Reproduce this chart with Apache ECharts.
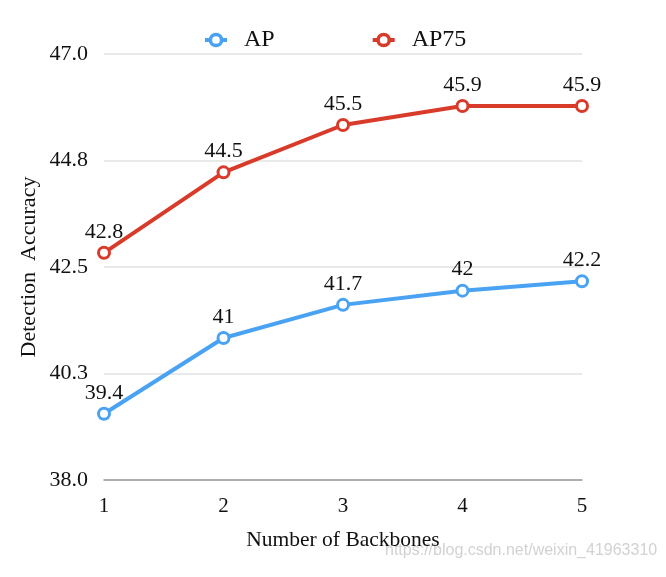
<!DOCTYPE html>
<html>
<head>
<meta charset="utf-8">
<script src="https://cdn.jsdelivr.net/npm/echarts@6/dist/echarts.min.js"></script>
<style>
html,body{margin:0;padding:0;background:#fff;}
#c{width:666px;height:577px;}
</style>
</head>
<body>
<div id="c"></div>
<script>
var categories = ['1', '2', '3', '4', '5'];
var apValues = [39.4, 41, 41.7, 42, 42.2];
var ap75Values = [42.8, 44.5, 45.5, 45.9, 45.9];
var yTickLabels = ['38.0', '40.3', '42.5', '44.8', '47.0'];
var yMin = 38.0, yMax = 47.0;

var serif = '"Liberation Serif", "DejaVu Serif", serif';
var chart = echarts.init(document.getElementById('c'));

function lineSeries(name, data, color) {
  return {
    name: name,
    type: 'line',
    yAxisIndex: 0,
    data: data,
    symbol: 'circle',
    symbolSize: 11,
    showAllSymbol: true,
    lineStyle: { color: color, width: 4 },
    itemStyle: { color: '#ffffff', borderColor: color, borderWidth: 3 },
    label: {
      show: true, position: 'top', distance: 3,
      fontFamily: serif, fontSize: 22, color: '#111'
    },
    emphasis: { disabled: true },
    animation: false
  };
}

chart.setOption({
  backgroundColor: '#ffffff',
  animation: false,
  legend: {
    top: 23, left: 198,
    itemWidth: 22, itemHeight: 14,
    itemGap: 96,
    lineStyle: { width: 4 },
    itemStyle: { borderWidth: 3.5 },
    textStyle: { fontFamily: serif, fontSize: 24, color: '#111', padding: [0, 0, 0, 12] },
    data: ['AP', 'AP75']
  },
  grid: { left: 104, right: 84, top: 54, bottom: 97 },
  xAxis: {
    type: 'category',
    data: categories,
    boundaryGap: false,
    axisLine: { lineStyle: { color: '#9a9a9a', width: 1.5 } },
    axisTick: { show: false },
    axisLabel: { fontFamily: serif, fontSize: 21, color: '#111', margin: 16 },
    name: 'Number of Backbones',
    nameLocation: 'middle',
    nameGap: 49,
    nameTextStyle: { fontFamily: serif, fontSize: 21.5, color: '#111' }
  },
  yAxis: [
    {
      type: 'value', min: yMin, max: yMax,
      axisLine: { show: false }, axisTick: { show: false },
      axisLabel: { show: false }, splitLine: { show: false },
      name: 'Detection  Accuracy',
      nameLocation: 'middle',
      nameGap: 64,
      nameTextStyle: { fontFamily: serif, fontSize: 22, color: '#111' }
    },
    {
      type: 'value', min: 0, max: yTickLabels.length - 1, interval: 1,
      position: 'left',
      axisLine: { show: false }, axisTick: { show: false },
      axisLabel: {
        fontFamily: serif, fontSize: 22, color: '#111', margin: 16,
        formatter: function (v) { return yTickLabels[Math.round(v)]; }
      },
      splitLine: { lineStyle: { color: '#e2e2e2', width: 1.5 } }
    }
  ],
  series: [
    lineSeries('AP', apValues, '#4aa3f2'),
    lineSeries('AP75', ap75Values, '#d93b2b')
  ],
  graphic: [{
    type: 'text', left: 385, top: 543, silent: true,
    style: {
      text: 'https://blog.csdn.net/weixin_41963310',
      fontFamily: '"Liberation Sans", Arial, sans-serif', fontSize: 16,
      fill: '#d2d2d2'
    }
  }]
});
</script>
</body>
</html>
